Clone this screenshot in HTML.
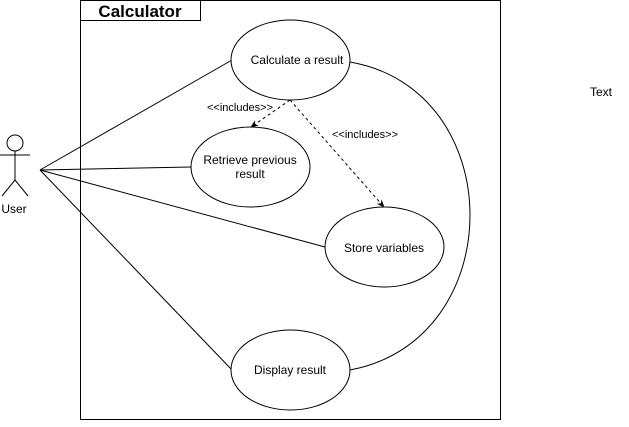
<!DOCTYPE html>
<html><head><style>
body{margin:0;background:#fff;width:629px;height:422px;overflow:hidden}
svg{font-family:"Liberation Sans",Arial,sans-serif}
</style></head><body>
<svg width="629" height="422" viewBox="0 0 629 422">
<defs><marker id="a" viewBox="0 0 10 10" refX="9" refY="5" markerWidth="8" markerHeight="8" orient="auto"><path d="M0,1 L10,5 L0,9 L3,5 Z" fill="#000"/></marker></defs>
<rect x="80.5" y="0.5" width="420" height="419" fill="#fff" stroke="#000"/>
<rect x="80.5" y="0.5" width="120" height="20" fill="#fff" stroke="#000"/>
<text x="140" y="17" font-size="17" font-weight="bold" text-anchor="middle">Calculator</text>
<g stroke="#000" fill="none">
<circle cx="15" cy="143" r="8" fill="#fff"/>
<line x1="15" y1="151" x2="15" y2="180"/>
<line x1="0" y1="155" x2="30" y2="155"/>
<line x1="15" y1="180" x2="2" y2="196"/>
<line x1="15" y1="180" x2="28" y2="196"/>
<line x1="40" y1="170" x2="232" y2="60"/>
<line x1="40" y1="170" x2="191" y2="167"/>
<line x1="40" y1="170" x2="325" y2="247"/>
<line x1="40" y1="170" x2="232" y2="370"/>
<path d="M350,62 C510,90 510,340 350,370"/>
<line x1="290" y1="100" x2="251" y2="127" stroke-dasharray="3,3" marker-end="url(#a)"/>
<line x1="290" y1="100" x2="384" y2="207" stroke-dasharray="3,3" marker-end="url(#a)"/>
<ellipse cx="290.5" cy="60" rx="59.5" ry="40" fill="#fff"/>
<ellipse cx="250.5" cy="167" rx="59.5" ry="40" fill="#fff"/>
<ellipse cx="384.5" cy="247" rx="59.5" ry="40" fill="#fff"/>
<ellipse cx="290.5" cy="370" rx="59.5" ry="40" fill="#fff"/>
</g>
<g font-size="12" text-anchor="middle">
<text x="14" y="213">User</text>
<text x="297" y="64">Calculate a result</text>
<text x="250" y="164">Retrieve previous</text>
<text x="250" y="178">result</text>
<text x="384" y="252">Store variables</text>
<text x="290" y="374">Display result</text>
<text x="601" y="96">Text</text>
</g>
<g font-size="11" text-anchor="middle">
<text x="240" y="111">&lt;&lt;includes&gt;&gt;</text>
<text x="365" y="138">&lt;&lt;includes&gt;&gt;</text>
</g>
</svg>
</body></html>
